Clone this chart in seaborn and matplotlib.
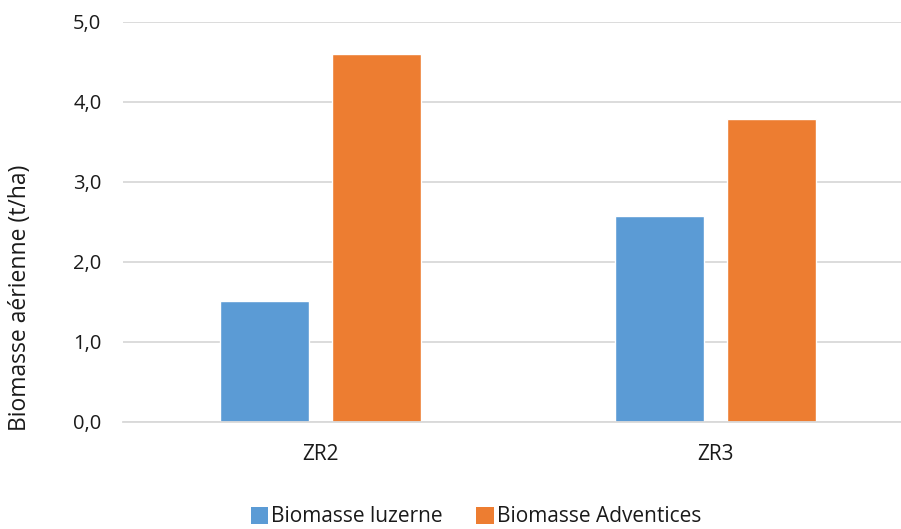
import matplotlib
matplotlib.use("Agg")
import matplotlib.pyplot as plt
from matplotlib.patches import Patch
from matplotlib.ticker import FuncFormatter
import pandas as pd
import seaborn as sns

zones = ["ZR2", "ZR3"]
series = ["Biomasse luzerne", "Biomasse Adventices"]
luzerne = [1.51, 2.57]
adventices = [4.60, 3.79]
colors = ["#5B9BD5", "#ED7D31"]
y_ticks = [0.0, 1.0, 2.0, 3.0, 4.0, 5.0]

df = pd.DataFrame({
    "zone": zones * 2,
    "serie": [series[0]] * len(zones) + [series[1]] * len(zones),
    "biomasse": luzerne + adventices,
})

sns.set_theme(style="white")
plt.rcParams["font.family"] = ["Open Sans", "DejaVu Sans"]

fig = plt.figure(figsize=(9.01, 5.29), dpi=100)
ax = fig.add_axes([123 / 901, 107 / 529, 790 / 901, 400 / 529])

sns.barplot(data=df, x="zone", y="biomasse", hue="serie", order=zones,
            hue_order=series, palette=colors, width=0.568, gap=0.211,
            saturation=1, legend=False, ax=ax)

ax.set_xlim(-0.5, 1.5)
ax.set_ylim(0, 5.0)
ax.set_yticks(y_ticks)
ax.yaxis.set_major_formatter(FuncFormatter(lambda v, _: f"{v:.1f}".replace(".", ",")))
ax.grid(axis="y", color="#D9D9D9", linewidth=1.3)
ax.set_axisbelow(True)
for side in ["top", "right", "left"]:
    ax.spines[side].set_visible(False)
ax.spines["bottom"].set_color("#D9D9D9")
ax.spines["bottom"].set_linewidth(1.3)
ax.tick_params(axis="both", length=0, labelsize=14.5, colors="#1a1a1a")
ax.tick_params(axis="y", pad=15.5)
ax.tick_params(axis="x", labelsize=15, pad=15.5)
ax.set_xlabel("")
ax.set_ylabel("Biomasse aérienne (t/ha)", fontsize=16.5, color="#1a1a1a")
ax.yaxis.set_label_coords(-0.115, 0.31)

handles = [Patch(facecolor=c, edgecolor="none") for c in colors]
fig.legend(handles, series, loc="center", bbox_to_anchor=(476 / 901, 12 / 529),
           ncol=2, frameon=False, fontsize=15, handlelength=0.85, handleheight=0.85,
           handletextpad=0.15, columnspacing=1.6, labelcolor="#1a1a1a")

fig.savefig("out.png", dpi=100)
